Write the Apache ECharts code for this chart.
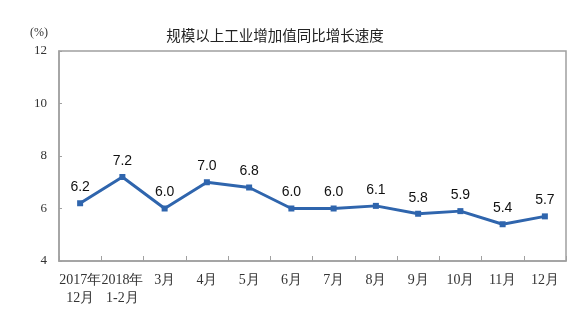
<!DOCTYPE html>
<html>
<head>
<meta charset="utf-8">
<script src="https://cdn.jsdelivr.net/npm/echarts@6/dist/echarts.min.js"></script>
<style>
  html, body { margin: 0; padding: 0; background: #fff; }
  #chart { width: 576px; height: 328px; }
</style>
</head>
<body>
<div id="chart"></div>
<script>
// Monthly growth of industrial value added (year on year, %)
const titleText = '规模以上工业增加值同比增长速度';
const unitText = '(%)';
const categories = ['2017年\n12月', '2018年\n1-2月', '3月', '4月', '5月', '6月', '7月', '8月', '9月', '10月', '11月', '12月'];
const growth = [6.2, 7.2, 6.0, 7.0, 6.8, 6.0, 6.0, 6.1, 5.8, 5.9, 5.4, 5.7];
const yTicks = [4, 6, 8, 10, 12];

const chart = echarts.init(document.getElementById('chart'), null, { renderer: 'canvas' });
chart.setOption({
  animation: false,
  backgroundColor: '#fff',
  title: {
    text: titleText,
    left: 270, top: 23, textAlign: 'center',
    textStyle: { fontFamily: 'Noto Sans CJK SC', fontSize: 14.5, fontWeight: 'normal', color: '#222' }
  },
  graphic: [{
    type: 'text', left: 30, top: 27,
    style: { text: unitText, font: '12px "Liberation Serif"', fill: '#333' }
  }],
  grid: {
    left: 59, right: 10, top: 51, bottom: 67,
    show: true, borderColor: '#a0a0a0', borderWidth: 1.5, backgroundColor: 'transparent'
  },
  xAxis: {
    type: 'category',
    data: categories,
    boundaryGap: true,
    axisLine: { lineStyle: { color: '#a0a0a0', width: 1.5 } },
    axisTick: { show: true, inside: true, length: 5, lineStyle: { color: '#a0a0a0' } },
    axisLabel: {
      interval: 0, margin: 10, color: '#333', lineHeight: 18,
      fontFamily: 'Liberation Serif', fontSize: 14
    }
  },
  yAxis: {
    type: 'value',
    min: yTicks[0], max: yTicks[yTicks.length - 1], interval: 2,
    splitLine: { show: false },
    axisLine: { show: true, lineStyle: { color: '#a0a0a0', width: 1.5 } },
    axisTick: { show: true, inside: true, length: 3, lineStyle: { color: '#a0a0a0' } },
    axisLabel: { margin: 12, color: '#333', fontFamily: 'Liberation Serif', fontSize: 13 }
  },
  series: [{
    type: 'line',
    data: growth,
    symbol: 'rect',
    symbolSize: 6,
    lineStyle: { color: '#2f65ad', width: 3 },
    itemStyle: { color: '#2f65ad' },
    label: {
      show: true, position: 'top', distance: 6,
      formatter: p => p.value.toFixed(1),
      fontFamily: 'Liberation Sans', fontSize: 14, color: '#111'
    }
  }]
});
</script>
</body>
</html>
